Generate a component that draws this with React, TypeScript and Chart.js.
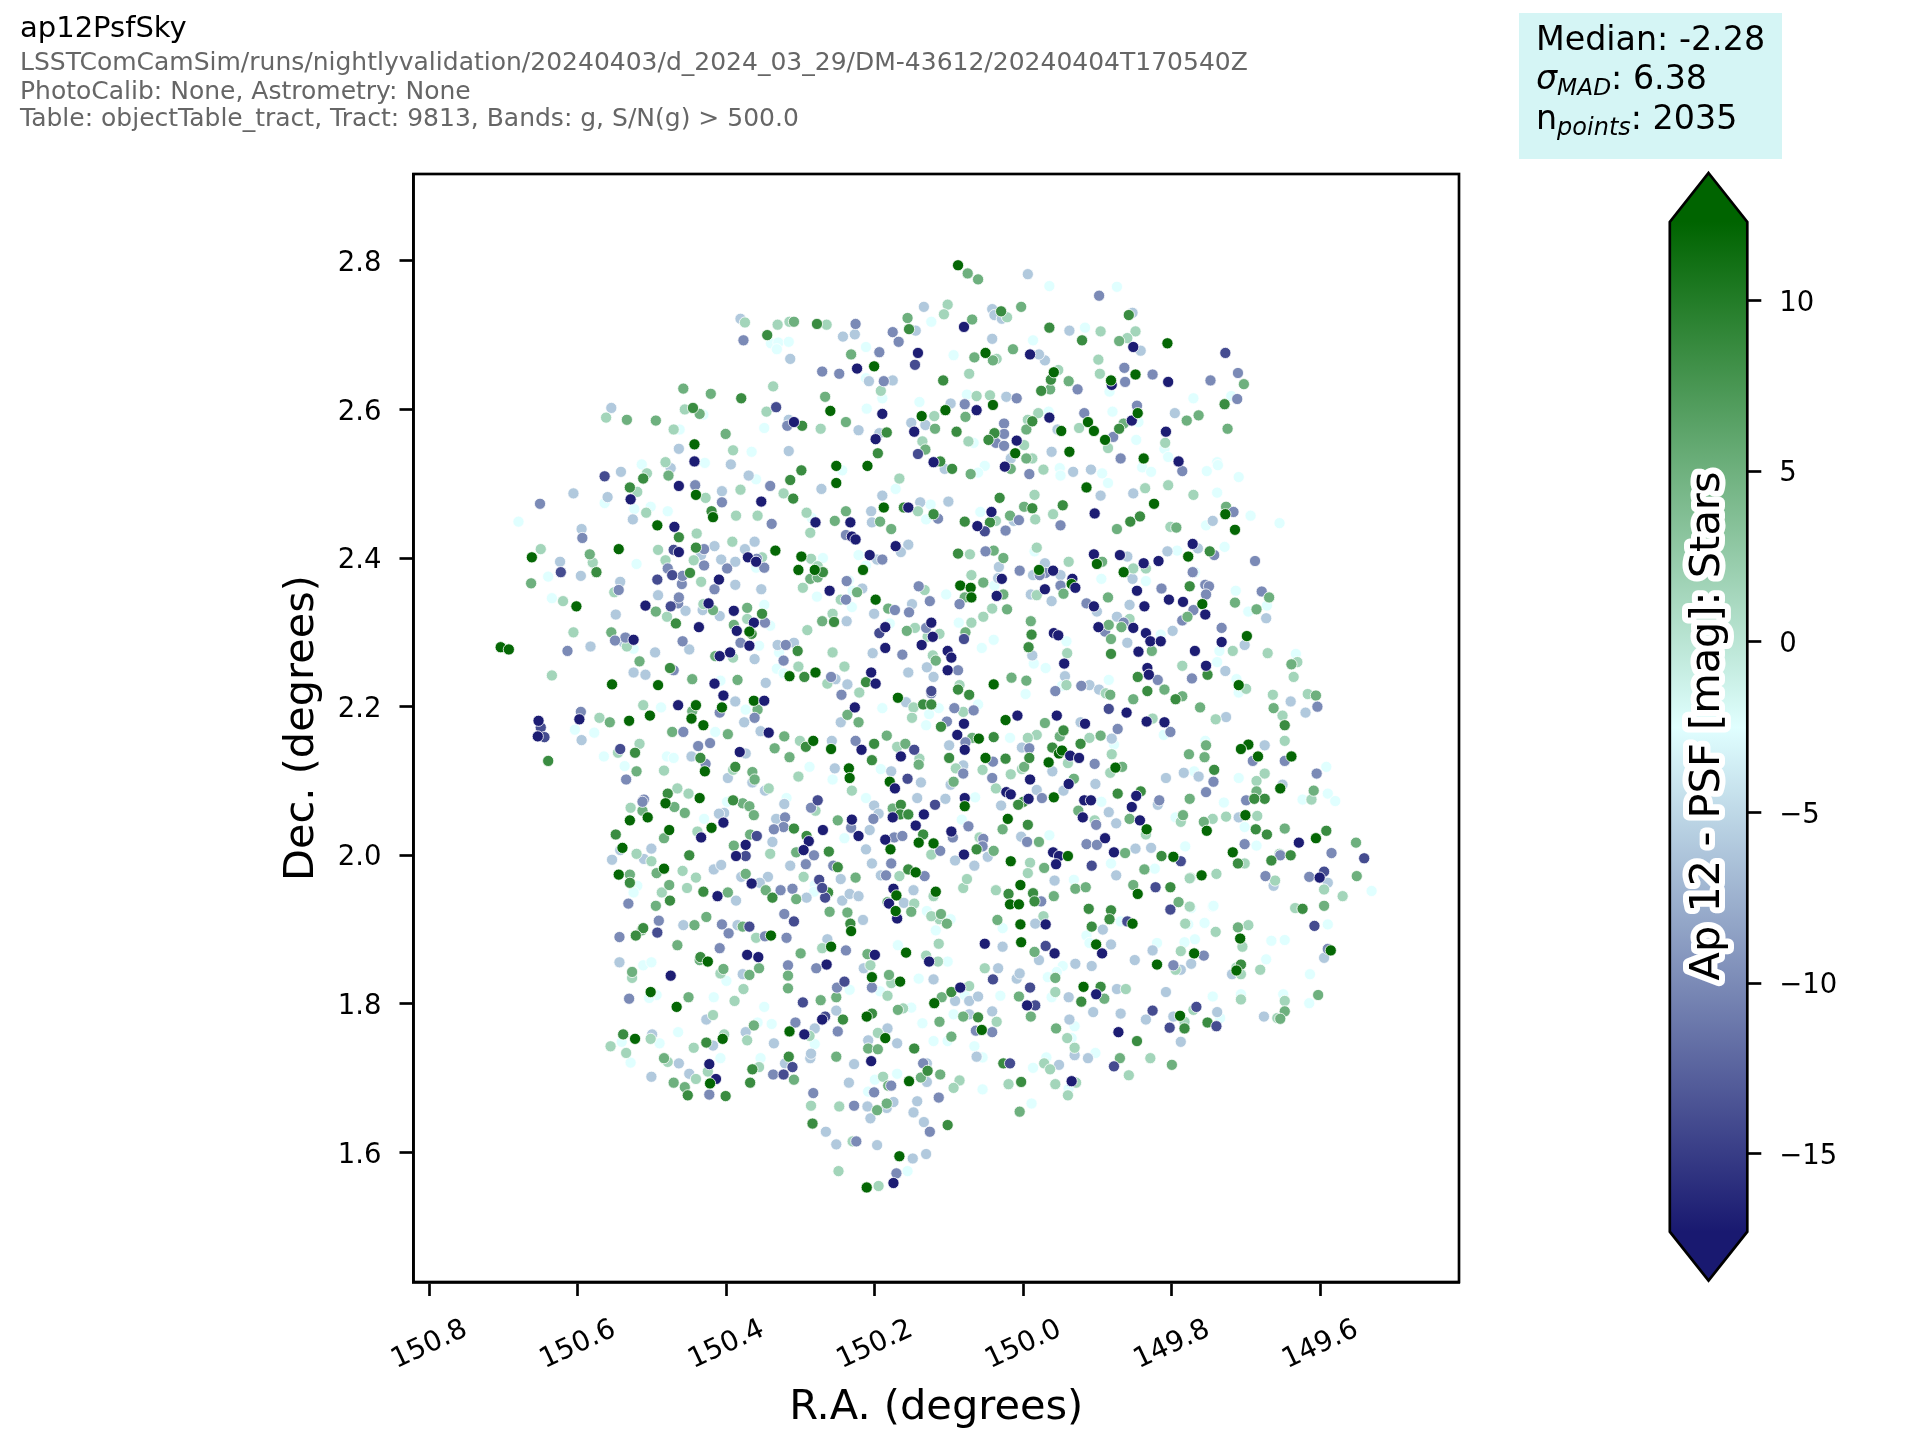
import React, { useEffect, useRef } from "react";
import { Chart, registerables } from "chart.js";

Chart.register(...registerables);

const D = 12, G = 8.5, M = 5, P = 1.5, C = -2.5, L = -6, S = -10, I = -14, N = -17;

const starsNorth: number[][] = [
[150.088,2.794,D],[150.075,2.783,M],[150.061,2.775,M],[149.994,2.782,L],[149.965,2.766,C],[149.874,2.765,C],[149.898,2.753,S],[150.134,2.738,L],[150.102,2.741,P],[150.107,2.728,P],[150.156,2.723,M],[150.154,2.708,G],[150.145,2.706,L],[150.124,2.718,C],[150.080,2.711,N],[150.069,2.721,M],[150.042,2.735,L],[150.039,2.727,L],[150.030,2.732,G],[150.029,2.722,L],[150.022,2.724,P],[150.003,2.738,M],[150.042,2.695,L],[150.014,2.681,M],[149.987,2.693,C],[149.965,2.710,G],[149.938,2.706,L],[149.917,2.710,C],[149.896,2.705,P],[149.921,2.693,G],[149.858,2.727,G],[149.853,2.730,L],[149.849,2.705,P],[149.860,2.696,P],[149.871,2.692,M],[149.852,2.684,N],[149.842,2.679,L],[149.806,2.689,D],[149.728,2.676,I],[149.711,2.649,S],[149.748,2.639,S],[149.703,2.634,M],[149.712,2.614,S],[149.720,2.618,C],[149.729,2.607,G],[149.780,2.585,M],[149.764,2.592,M],[149.796,2.595,L],[149.725,2.574,M],[149.771,2.615,C],[149.805,2.637,N],[149.826,2.647,S],[149.849,2.647,D],[149.864,2.656,S],[149.863,2.637,S],[149.881,2.633,N],[149.882,2.639,D],[149.884,2.624,C],[149.897,2.648,P],[149.899,2.667,P],[149.927,2.627,S],[149.939,2.638,M],[149.959,2.650,D],[149.963,2.640,G],[149.976,2.625,G],[149.964,2.627,M],[149.953,2.653,P],[149.971,2.666,L],[149.979,2.674,L],[149.991,2.674,N],[150.051,2.676,D],[150.066,2.670,M],[150.041,2.666,M],[150.036,2.668,P],[150.094,2.673,C],[150.073,2.648,P],[150.108,2.639,G],[150.142,2.676,N],[150.146,2.660,I],[150.194,2.677,S],[150.232,2.674,M],[150.212,2.684,C],[150.227,2.701,L],[150.243,2.698,L],[150.226,2.715,S],[150.176,2.704,S],[150.168,2.691,S],[150.224,2.655,N],[150.201,2.658,D],[150.271,2.651,S],[150.248,2.648,S],[150.208,2.638,L],[150.188,2.638,S],[150.176,2.639,L],[150.212,2.642,C],[150.192,2.625,P],[150.190,2.615,C],[150.278,2.715,G],[150.265,2.714,P],[150.309,2.718,M],[150.315,2.718,P],[150.331,2.714,P],[150.345,2.700,G],[150.381,2.722,L],[150.375,2.717,P],[150.377,2.693,S],[150.340,2.689,C],[150.330,2.690,C],[150.316,2.691,C],[150.332,2.681,C],[150.314,2.668,L],[150.337,2.631,P],[150.458,2.628,M],[150.421,2.621,M],[150.380,2.615,G],[150.267,2.617,M],[150.456,2.600,P],[150.445,2.602,G],[150.436,2.594,M],[150.431,2.593,C],[150.495,2.585,M],[150.471,2.573,P],[150.463,2.573,C],[150.333,2.603,I],[150.346,2.597,P],[150.260,2.598,D],[150.190,2.594,N],[150.211,2.601,C],[150.140,2.610,C],[150.076,2.620,C],[150.063,2.618,P],[150.045,2.619,P],[150.023,2.617,L],[150.009,2.615,S],[150.079,2.607,S],[150.098,2.608,L],[150.105,2.599,D],[150.063,2.599,N],[150.041,2.606,D],[150.137,2.591,D],[150.120,2.591,P],[150.078,2.590,M],[150.151,2.582,L],[150.132,2.579,L],[150.119,2.574,M],[150.090,2.570,G],[150.039,2.568,G],[150.026,2.581,S],[150.026,2.567,S],[150.009,2.558,N],[149.996,2.573,M],[149.988,2.584,G],[149.980,2.595,P],[149.994,2.586,P],[149.965,2.589,N],[149.966,2.597,C],[149.949,2.571,D],[149.954,2.573,L],[149.918,2.595,S],[149.913,2.583,D],[149.905,2.571,D],[149.925,2.575,P],[149.890,2.559,D],[149.879,2.563,S],[149.871,2.574,G],[149.865,2.581,M],[149.854,2.585,N],[149.846,2.595,D],[149.847,2.605,S],[149.880,2.597,C],[149.845,2.583,C],[149.808,2.570,N],[149.848,2.559,C],[149.809,2.555,P],[149.810,2.547,C],[149.886,2.548,P],[149.869,2.534,S],[149.838,2.534,D],[149.805,2.536,C],[149.791,2.530,N],[149.786,2.517,S],[149.753,2.517,C],[149.739,2.529,C],[149.738,2.525,C],[149.710,2.509,C],[149.840,2.522,C],[149.828,2.516,C],[149.894,2.514,C],[149.909,2.519,L],[149.933,2.516,L],[149.951,2.521,C],[149.950,2.511,C],[149.973,2.519,P],[149.962,2.543,L],[149.938,2.543,D],[149.988,2.534,P],[149.996,2.534,M],[150.011,2.541,D],[149.999,2.552,P],[150.017,2.534,L],[150.025,2.523,N],[150.017,2.520,M],[149.992,2.513,S],[150.037,2.555,S],[150.047,2.559,G],[150.026,2.551,S],[150.052,2.524,C],[150.071,2.513,M],[150.061,2.515,C],[150.074,2.557,P],[150.067,2.555,C],[150.096,2.520,G],[150.112,2.530,G],[150.106,2.520,L],[150.121,2.529,N],[150.142,2.540,I],[150.132,2.546,M],[150.136,2.557,P],[150.184,2.569,G],[150.199,2.560,N],[150.194,2.568,L],[150.147,2.570,N],[150.196,2.541,G],[150.222,2.572,L],[150.239,2.583,M],[150.273,2.574,P],[150.298,2.578,G],[150.309,2.583,N],[150.318,2.578,S],[150.316,2.586,L],[150.349,2.575,C],[150.401,2.567,M],[150.464,2.547,L],[150.443,2.553,D],[150.443,2.530,N],[150.429,2.528,C],[150.394,2.526,L],[150.391,2.545,P],[150.366,2.543,C],[150.316,2.544,L],[150.482,2.529,P],[150.475,2.521,L],[150.299,2.518,G],[150.252,2.524,D],[150.210,2.524,D],[150.244,2.518,C],[150.370,2.511,L],[150.360,2.506,C],[150.507,2.514,P],[150.478,2.511,M],[150.512,2.507,G],[150.314,2.505,G],[150.167,2.507,P],
];

const starsCentreA: number[][] = [
[150.464,2.497,N],[150.442,2.498,S],[150.441,2.485,D],[150.428,2.481,P],[150.406,2.490,L],[150.381,2.492,P],[150.341,2.497,S],[150.323,2.487,P],[150.310,2.480,G],[150.353,2.476,N],[150.406,2.475,S],[150.420,2.463,G],[150.252,2.501,D],[150.272,2.493,L],[150.172,2.493,C],[150.190,2.484,L],[150.188,2.468,D],[150.155,2.468,N],[150.161,2.468,G],[150.139,2.475,L],[150.125,2.472,C],[150.101,2.476,L],[150.121,2.459,G],[150.142,2.463,P],[150.205,2.463,L],[150.032,2.481,G],[149.985,2.485,P],[149.999,2.469,M],[149.988,2.467,G],[149.947,2.471,G],[150.043,2.462,N],[150.058,2.462,C],[149.915,2.495,D],[149.896,2.484,L],[149.886,2.501,C],[149.852,2.487,L],[149.836,2.494,P],[149.805,2.498,P],[149.771,2.485,P],[149.739,2.488,C],[149.824,2.473,D],[149.904,2.460,N],[149.727,2.469,M],[149.728,2.459,D],[149.717,2.462,S],[149.694,2.457,C],
[150.508,2.461,P],[150.479,2.463,C],[150.502,2.469,C],[150.493,2.444,D],[150.470,2.442,N],[150.440,2.433,P],[150.464,2.428,G],[150.418,2.455,D],[150.387,2.457,P],[150.358,2.457,P],[150.339,2.446,S],[150.292,2.461,P],[150.280,2.448,N],[150.285,2.454,C],[150.287,2.434,P],[150.239,2.463,M],[150.254,2.450,M],[150.233,2.448,N],[150.239,2.431,S],[150.231,2.429,N],[150.226,2.425,N],[150.193,2.449,M],[150.204,2.448,L],[150.178,2.439,M],[150.115,2.453,S],[150.131,2.452,C],[150.079,2.449,G],[150.062,2.443,N],[150.052,2.436,I],[150.045,2.448,G],[150.037,2.450,P],[150.024,2.437,S],[150.018,2.457,M],[150.006,2.451,S],[150.013,2.450,L],[149.984,2.452,P],[149.950,2.444,S],[149.960,2.459,P],[149.874,2.439,M],[149.856,2.449,G],[149.843,2.456,G],[149.802,2.442,P],[149.794,2.441,M],[149.715,2.438,D],[149.754,2.444,C],[149.745,2.450,L],[149.655,2.447,C],
[150.362,2.422,L],[150.492,2.411,P],[150.441,2.414,G],[150.430,2.412,S],[150.471,2.411,I],[150.434,2.404,L],[150.464,2.408,N],[150.416,2.416,L],[150.392,2.422,P],[150.375,2.412,L],[150.444,2.397,P],[150.407,2.398,L],[150.388,2.395,L],[150.482,2.397,P],[150.334,2.410,D],[150.371,2.401,N],[150.360,2.395,N],[150.359,2.399,S],[150.352,2.401,P],[150.349,2.387,S],[150.299,2.402,D],[150.286,2.399,P],[150.270,2.400,C],[150.281,2.384,D],[150.216,2.384,D],[150.270,2.381,G],[150.277,2.389,P],[150.212,2.390,C],[150.287,2.372,M],[150.222,2.404,C],[150.235,2.370,C],[150.207,2.404,N],[150.197,2.398,L],[150.190,2.398,S],[150.155,2.418,L],[150.172,2.416,N],[150.165,2.408,L],[150.072,2.405,P],[150.088,2.406,G],[150.040,2.410,M],[150.027,2.400,M],[150.051,2.409,S],[149.979,2.384,D],[149.960,2.383,N],[149.971,2.393,L],[149.982,2.414,P],[149.985,2.409,C],[149.905,2.405,N],[149.901,2.392,D],[149.894,2.395,M],[149.870,2.404,N],[149.860,2.402,L],[149.835,2.386,P],[149.838,2.393,N],[149.818,2.396,N],[149.778,2.402,D],[149.749,2.409,G],[149.793,2.410,C],[149.806,2.409,L],[149.765,2.413,L],[149.743,2.404,S],[149.688,2.396,S],[149.729,2.415,C],[149.772,2.419,N],[149.769,2.381,C],
[150.034,2.373,L],[149.987,2.377,L],[149.970,2.380,S],[149.950,2.377,L],[149.939,2.395,P],[149.982,2.350,P],[150.509,2.336,N],[150.495,2.328,M],[150.475,2.335,I],[150.465,2.339,S],[150.455,2.329,L],[150.424,2.339,N],[150.431,2.338,P],[150.418,2.330,M],[150.390,2.329,N],[150.372,2.333,M],[150.349,2.337,C],[150.432,2.330,L],
[150.480,2.321,P],[150.468,2.312,G],[150.409,2.322,L],[150.437,2.307,N],[150.363,2.313,N],[150.352,2.325,G],[150.372,2.318,P],[150.348,2.313,S],[150.341,2.309,C],[150.390,2.310,M],[150.386,2.302,N],[150.369,2.301,D],[150.366,2.298,G],[150.459,2.288,S],[150.381,2.286,S],[150.369,2.282,N],[150.356,2.282,C],[150.291,2.303,P],[150.257,2.325,P],[150.271,2.315,M],[150.255,2.314,G],[150.238,2.315,L],[150.201,2.325,L],[150.186,2.307,N],[150.194,2.299,I],[150.180,2.312,C],[150.157,2.302,M],[150.146,2.306,P],[150.131,2.306,S],[150.124,2.313,N],[150.129,2.294,P],[150.122,2.294,N],
];

const starsGapUpper: number[][] = [
[150.493,2.371,I],[150.410,2.371,N],[150.434,2.368,P],[150.460,2.365,S],[150.416,2.358,S],[150.388,2.364,L],[150.353,2.358,L],[150.492,2.350,L],[150.464,2.347,S],[150.297,2.360,P],[150.278,2.348,C],[150.261,2.356,N],[150.238,2.369,S],[150.224,2.354,M],[150.217,2.359,L],[150.230,2.356,C],[150.239,2.344,S],[150.246,2.344,P],[150.199,2.344,D],[150.231,2.334,C],[150.182,2.332,M],[150.173,2.330,S],[150.150,2.338,L],[150.154,2.327,S],[150.126,2.342,S],[150.133,2.357,P],[150.141,2.362,S],[150.104,2.351,C],[150.085,2.363,D],[150.071,2.360,D],[150.070,2.347,D],[150.054,2.367,M],[150.070,2.377,P],[150.079,2.347,M],[150.086,2.338,S],[150.029,2.372,N],[150.036,2.349,N],[150.027,2.351,M],[150.039,2.363,C],[150.022,2.331,M],[150.042,2.332,P],[149.990,2.351,L],[149.971,2.358,N],[149.950,2.363,S],[149.934,2.372,N],[149.935,2.365,D],[149.930,2.360,N],[149.946,2.352,M],[149.962,2.342,L],[149.915,2.339,S],[149.905,2.335,N],[149.901,2.328,L],[149.886,2.347,M],[149.895,2.372,C],[149.853,2.372,L],[149.835,2.369,C],[149.847,2.356,N],[149.837,2.335,N],[149.857,2.337,L],[149.814,2.359,S],[149.804,2.344,N],[149.785,2.341,N],[149.776,2.362,G],[149.759,2.338,D],[149.755,2.364,S],[149.750,2.362,S],[149.754,2.351,S],[149.771,2.330,S],[149.714,2.356,C],[149.715,2.340,M],[149.679,2.355,S],[149.669,2.347,M],[149.686,2.331,M],[149.697,2.328,C],[149.672,2.336,C],
[150.473,2.377,I],[150.449,2.380,G],[150.459,2.376,S],[150.303,2.384,D],[150.277,2.374,M],[150.005,2.383,S],[149.978,2.377,S],[149.865,2.381,D],[149.852,2.386,P],[149.772,2.381,S],[150.033,2.388,L],[150.399,2.386,S],[150.430,2.390,S],[150.360,2.387,C],[150.479,2.386,S],
];

const starsCentreB: number[][] = [
[150.123,2.295,L],[150.113,2.298,P],[150.137,2.283,N],[150.087,2.313,C],[150.070,2.313,P],[150.054,2.321,P],[150.078,2.300,M],[150.080,2.291,I],[150.040,2.290,C],[149.990,2.315,M],[149.989,2.297,G],[149.959,2.299,N],[149.953,2.296,N],[149.942,2.288,C],[149.899,2.307,N],[149.890,2.301,S],[149.885,2.310,M],[149.874,2.321,L],[149.865,2.313,S],[149.857,2.318,P],[149.852,2.306,N],[149.868,2.307,M],[149.882,2.291,M],[149.860,2.286,L],[149.835,2.299,N],[149.829,2.288,N],[149.815,2.288,N],[149.815,2.297,C],[149.799,2.302,L],[149.786,2.316,S],[149.779,2.321,M],[149.755,2.324,N],[149.733,2.306,S],[149.733,2.287,N],[149.699,2.295,D],[149.673,2.319,L],
[150.496,2.273,L],[150.450,2.277,L],[150.409,2.268,N],[150.415,2.268,M],[150.395,2.273,N],[150.362,2.264,L],[150.391,2.266,P],[150.331,2.283,L],[150.320,2.283,S],[150.309,2.286,L],[150.323,2.262,S],[150.304,2.275,G],[150.329,2.273,C],[150.257,2.273,P],[150.332,2.251,C],[150.323,2.245,C],[150.303,2.254,P],[150.315,2.241,D],[150.295,2.240,G],[150.280,2.246,D],[150.476,2.252,G],[150.471,2.249,S],[150.509,2.243,L],[150.446,2.237,M],[150.385,2.236,M],[150.241,2.254,P],[150.259,2.240,S],[150.253,2.237,L],[150.205,2.246,N],[150.203,2.272,L],[150.186,2.279,N],[150.163,2.270,S],[150.155,2.246,L],[150.122,2.269,P],[150.118,2.262,M],[150.130,2.253,L],[150.102,2.275,N],[150.097,2.266,N],[150.102,2.249,N],[150.088,2.249,S],[150.121,2.240,L],[150.056,2.279,C],[149.993,2.280,G],[149.988,2.269,L],[149.986,2.258,C],[149.970,2.252,C],[149.945,2.258,N],[149.941,2.272,P],[149.944,2.241,L],[150.016,2.239,M],[149.996,2.235,M],[149.882,2.271,G],[149.845,2.274,N],[149.827,2.275,M],[149.769,2.275,N],[149.736,2.275,C],[149.718,2.275,P],[149.702,2.283,L],[149.671,2.272,P],[149.786,2.255,P],[149.754,2.255,N],[149.752,2.243,G],[149.739,2.260,C],[149.728,2.248,L],[149.833,2.252,N],[149.831,2.243,N],[149.846,2.240,G],[149.819,2.236,S],[149.885,2.236,C],[149.773,2.238,S],
[150.492,2.229,D],[150.416,2.231,N],[150.408,2.235,C],[150.347,2.232,L],[150.237,2.230,L],[150.212,2.233,G],[150.199,2.231,N],[150.221,2.219,P],[150.264,2.231,P],[150.245,2.216,S],[150.040,2.230,D],[150.088,2.223,G],[150.086,2.229,P],[150.073,2.216,G],[150.124,2.221,I],[150.169,2.212,D],[150.124,2.218,S],[150.158,2.206,L],[150.135,2.203,G],[150.124,2.203,G],[150.114,2.198,C],[150.404,2.215,N],[150.388,2.207,L],[150.465,2.202,N],[150.441,2.202,D],[150.446,2.194,M],[150.409,2.192,S],[150.406,2.199,D],[150.363,2.208,D],[150.349,2.208,N],[150.358,2.196,M],[150.374,2.196,C],[150.488,2.199,C],[150.512,2.202,P],[150.190,2.198,C],[150.227,2.199,N],[150.148,2.199,P],[150.093,2.198,S],[150.067,2.195,S],[150.081,2.193,P],[150.061,2.203,C],[149.997,2.217,C],[149.957,2.221,S],[149.942,2.229,P],[149.948,2.228,C],[149.922,2.228,S],[149.911,2.229,L],[149.898,2.223,L],[149.883,2.216,M],[149.889,2.218,P],[149.885,2.197,I],[149.861,2.192,N],[149.852,2.210,M],[149.795,2.210,G],[149.833,2.221,G],[149.810,2.223,M],[149.786,2.214,M],[149.762,2.199,M],[149.710,2.229,D],[149.713,2.237,C],[149.700,2.224,P],[149.710,2.219,C],[149.663,2.198,M],[149.664,2.216,P],
[150.503,2.188,D],[150.447,2.184,D],[150.431,2.175,D],[150.362,2.185,S],[150.376,2.179,L],[150.473,2.166,M],[150.458,2.166,S],[150.415,2.166,C],[150.398,2.163,M],[150.343,2.165,N],[150.322,2.160,M],[150.354,2.167,L],[150.301,2.154,P],[150.283,2.154,D],[150.293,2.146,G],[150.258,2.154,L],[150.226,2.154,S],[150.237,2.189,M],[150.222,2.179,M],[150.246,2.179,L],[150.184,2.161,M],[150.150,2.185,P],[150.127,2.190,C],[150.131,2.175,C],[150.111,2.173,G],[150.103,2.180,S],[150.080,2.177,N],[150.089,2.162,N],[150.069,2.158,M],[150.060,2.157,D],[150.040,2.159,G],[150.078,2.152,S],[150.100,2.148,L],[150.201,2.150,G],[150.159,2.150,M],[150.170,2.146,P],[150.024,2.182,D],[150.008,2.188,N],[149.971,2.178,M],[149.955,2.188,N],[149.946,2.168,G],[149.951,2.160,M],[149.982,2.162,P],[149.994,2.158,P],[150.018,2.158,C],[149.923,2.179,L],[149.917,2.177,N],[149.923,2.150,G],[149.896,2.161,M],[149.911,2.158,P],[149.881,2.157,L],[149.873,2.170,S],[149.878,2.149,C],[149.834,2.180,N],[149.826,2.184,P],[149.810,2.179,N],[149.802,2.166,S],[149.811,2.162,C],[149.754,2.148,M],[149.741,2.183,P],[149.727,2.186,L],[149.755,2.154,C],[149.675,2.148,L],[149.697,2.149,D],
[150.480,2.133,C],[150.471,2.131,C],[150.447,2.133,L],[150.435,2.131,G],[150.428,2.123,S],[150.438,2.147,S],[150.422,2.151,S],[150.382,2.139,N],[150.374,2.137,L],[150.335,2.144,M],[150.315,2.132,M],[150.288,2.119,C],[150.259,2.143,D],[150.218,2.142,N],[150.204,2.128,G],[150.165,2.133,N],[150.147,2.142,I],[150.141,2.122,M],[150.140,2.130,P],[150.100,2.131,G],[150.079,2.142,N],[150.051,2.131,D],[150.024,2.130,G],[150.041,2.126,S],[149.992,2.131,G],[149.992,2.144,S],[150.002,2.145,L],[149.966,2.125,D],[149.961,2.145,G],[149.952,2.137,D],[149.948,2.141,D],[149.937,2.134,N],[149.925,2.131,N],[149.940,2.124,P],[149.881,2.136,P],[149.904,2.123,S],[149.876,2.118,D],[149.867,2.119,M],[149.883,2.111,P],[149.777,2.136,M],[149.756,2.132,M],[149.743,2.115,G],[149.684,2.133,D],[149.691,2.127,S],[149.675,2.110,P],[149.707,2.143,D],
[150.235,2.117,D],[150.234,2.104,D],[150.254,2.117,L],[150.257,2.102,C],[150.303,2.106,P],[150.429,2.113,D],[150.484,2.114,P],[150.388,2.119,G],[150.391,2.115,P],[150.365,2.112,M],[150.398,2.104,L],[150.362,2.102,M],[150.365,2.098,L],[150.192,2.116,C],[150.178,2.113,L],[150.156,2.103,I],[150.091,2.117,P],[150.081,2.110,S],[150.081,2.121,L],[150.055,2.115,P],[150.042,2.104,S],[150.002,2.116,P],[150.017,2.109,P],[149.999,2.119,M],[149.991,2.102,N],[149.961,2.113,L],[149.932,2.103,M],[149.808,2.104,L],[149.764,2.106,L],[149.784,2.111,L],[149.770,2.113,C],[149.710,2.104,C],[149.744,2.099,S],[149.686,2.100,P],
[150.343,2.090,P],[150.348,2.087,L],[150.180,2.099,D],[150.173,2.090,N],[150.138,2.098,L],[150.231,2.087,P],[150.212,2.077,C],[150.201,2.067,L],[150.094,2.099,M],[150.098,2.095,L],[150.037,2.090,P],[150.023,2.085,N],[150.017,2.082,N],[149.982,2.088,L],[149.939,2.096,N],[149.946,2.087,L],[149.959,2.078,D],[149.975,2.077,S],[149.993,2.076,N],[150.000,2.072,G],[150.007,2.068,G],[150.030,2.067,L],[149.903,2.096,L],[149.873,2.083,G],[149.842,2.086,G],[149.848,2.080,N],[149.817,2.074,S],[149.754,2.085,S],[149.776,2.076,M],[149.686,2.086,M],[149.675,2.076,G],[149.700,2.074,S],[149.689,2.076,G],[149.730,2.071,C],[149.819,2.068,L],[149.854,2.065,N],[149.918,2.074,N],[149.909,2.074,N],[149.895,2.072,C],[150.079,2.077,N],[150.065,2.078,C],[150.105,2.076,L],[150.119,2.068,I],[150.143,2.077,L],[150.165,2.068,G],[150.176,2.063,M],[150.079,2.066,D],
[150.479,2.083,G],[150.466,2.090,P],[150.451,2.083,P],[150.511,2.075,S],[150.436,2.077,D],[150.482,2.070,D],[150.470,2.065,M],[150.391,2.074,G],[150.378,2.070,M],[150.369,2.066,M],[150.399,2.072,C],[150.322,2.069,L],[150.319,2.077,C],[150.277,2.074,I],[150.286,2.064,S],[150.280,2.060,P],[150.513,2.060,M],[150.456,2.057,M],[150.403,2.057,L],[150.410,2.056,L],
];

const starsCentreC: number[][] = [
[150.506,2.051,D],[150.430,2.049,C],[150.363,2.054,M],[150.404,2.044,N],[150.420,2.037,D],[150.477,2.034,D],[150.439,2.032,P],[150.434,2.024,N],[150.484,2.023,M],[150.321,2.051,S],[150.333,2.049,L],[150.323,2.038,S],[150.336,2.035,S],[150.309,2.036,G],[150.368,2.028,M],[150.359,2.026,I],[150.270,2.034,N],[150.250,2.047,M],[150.231,2.048,N],[150.232,2.037,S],[150.222,2.026,N],[150.241,2.023,C],[150.292,2.026,G],[150.289,2.019,N],[150.202,2.049,S],[150.195,2.056,L],[150.176,2.051,N],[150.166,2.055,G],[150.155,2.055,G],[150.134,2.055,N],[150.145,2.040,N],[150.207,2.034,L],[150.186,2.021,N],[150.174,2.024,S],[150.163,2.026,S],[150.135,2.028,G],[150.141,2.017,D],[150.121,2.016,D],[150.097,2.032,N],[150.095,2.024,S],[150.074,2.039,S],[150.083,2.048,C],[150.054,2.022,S],[150.059,2.024,P],[150.021,2.049,D],[149.994,2.041,G],[150.028,2.035,M],[150.003,2.025,L],[149.995,2.018,S],[149.979,2.018,M],[149.965,2.027,C],[149.920,2.051,N],[149.902,2.041,S],[149.904,2.047,P],[149.926,2.060,M],[149.885,2.058,L],[149.875,2.043,L],[149.857,2.049,M],[149.843,2.047,N],[149.834,2.035,D],[149.835,2.028,P],[149.890,2.023,N],[149.915,2.015,S],[149.901,2.014,S],[149.785,2.054,M],[149.788,2.045,P],[149.757,2.045,M],[149.753,2.033,D],[149.795,2.051,C],[149.745,2.049,P],[149.701,2.054,D],[149.685,2.053,P],[149.710,2.051,L],[149.727,2.052,P],[149.702,2.038,C],[149.687,2.035,G],[149.672,2.028,G],[149.702,2.015,S],[149.686,2.013,C],
[150.501,2.009,L],[150.511,1.995,L],[150.501,1.992,P],[150.450,2.000,G],[150.484,1.982,D],[150.494,1.976,M],[150.459,1.979,P],[150.441,1.970,P],[150.417,1.981,L],[150.407,1.987,L],[150.390,2.013,M],[150.387,1.999,N],[150.374,2.014,N],[150.374,1.999,I],[150.374,1.975,M],[150.380,1.971,L],[150.338,2.018,L],[150.341,2.002,P],[150.314,1.986,L],[150.293,1.988,S],[150.296,2.007,N],[150.306,2.004,M],[150.262,2.005,G],[150.282,2.000,S],[150.250,1.984,G],[150.256,1.986,S],[150.296,1.971,P],[150.344,1.971,L],[150.212,2.008,L],[150.204,1.989,L],[150.179,2.008,D],[150.178,1.989,S],[150.155,1.981,G],[150.145,1.977,D],[150.133,1.972,S],[150.167,1.972,P],[150.185,1.973,S],[150.192,1.973,L],[150.124,2.001,P],[150.112,2.006,S],[150.080,2.001,N],[150.092,1.993,L],[150.066,1.986,L],[150.063,2.008,G],[150.055,2.012,S],[150.048,1.998,L],[150.040,2.006,M],[150.017,1.992,D],[149.991,1.990,P],[149.994,1.976,P],[149.972,1.983,M],[149.960,2.004,N],[149.952,1.999,N],[149.940,1.999,D],[149.956,1.988,N],[149.908,1.986,I],[149.878,2.004,N],[149.863,2.003,M],[149.849,2.009,L],[149.882,1.989,C],[149.875,1.973,L],[149.837,1.981,M],[149.823,1.982,C],[149.828,2.010,L],[149.814,1.999,G],[149.798,1.998,D],[149.788,1.992,I],[149.782,2.012,C],[149.760,1.973,D],[149.775,1.970,P],[149.740,1.975,P],[149.718,2.004,D],[149.711,1.989,G],[149.702,1.989,P],[149.666,1.993,G],[149.655,2.002,P],[149.674,1.972,S],
[150.477,1.960,M],[150.453,1.956,P],[150.487,1.950,P],[150.476,1.939,G],[150.495,1.932,M],[150.431,1.951,G],[150.412,1.945,N],[150.398,1.950,M],[150.387,1.939,L],[150.366,1.962,N],[150.355,1.963,L],[150.347,1.953,M],[150.338,1.943,G],[150.327,1.953,S],[150.311,1.955,S],[150.306,1.941,M],[150.292,1.943,L],[150.281,1.960,C],[150.282,1.951,C],[150.267,1.943,I],[150.263,1.950,G],[150.275,1.967,I],[150.271,1.956,I],[150.246,1.968,L],[150.244,1.939,L],[150.234,1.948,L],[150.222,1.945,L],[150.226,1.970,M],[150.261,1.924,M],[150.175,1.955,N],[150.171,1.946,D],[150.181,1.935,N],[150.183,1.937,M],[150.148,1.953,L],[150.161,1.936,L],[150.147,1.935,P],[150.121,1.945,P],[150.118,1.951,D],[150.081,1.956,P],[150.076,1.968,P],[150.037,1.953,P],[150.004,1.960,D],[150.020,1.948,G],[149.987,1.949,G],[149.976,1.938,S],[149.985,1.938,G],[149.959,1.945,M],[150.018,1.934,D],[150.006,1.934,D],[149.958,1.966,L],[149.930,1.955,M],[149.916,1.957,M],[149.912,1.928,G],[149.932,1.967,C],[149.882,1.926,G],[149.852,1.960,M],[149.846,1.948,D],[149.822,1.957,I],[149.802,1.957,G],[149.802,1.927,I],[149.791,1.937,M],[149.776,1.931,P],[149.774,1.929,C],[149.745,1.931,C],[149.663,1.959,L],[149.661,1.966,P],[149.744,1.932,C],[149.776,1.969,P],
[150.491,1.912,S],[150.512,1.902,G],[150.493,1.896,I],[150.458,1.906,L],[150.443,1.906,M],[150.427,1.917,M],[150.406,1.907,S],[150.397,1.895,S],[150.385,1.906,L],[150.378,1.904,M],[150.369,1.904,I],[150.348,1.891,S],[150.340,1.892,D],[150.319,1.889,S],[150.322,1.921,S],[150.309,1.911,I],[150.360,1.889,P],[150.237,1.923,M],[150.233,1.908,G],[150.232,1.898,D],[150.216,1.913,L],[150.170,1.915,N],[150.172,1.925,D],[150.151,1.924,M],[150.130,1.925,C],[150.113,1.914,P],[150.098,1.914,C],[150.124,1.918,P],[150.118,1.899,C],[150.111,1.921,M],[150.103,1.908,M],[150.035,1.913,M],[150.028,1.902,C],[150.004,1.907,D],[149.970,1.907,N],[149.973,1.918,P],[149.908,1.904,G],[149.984,1.908,L],[149.915,1.892,C],[149.893,1.900,L],[149.884,1.914,G],[149.869,1.911,C],[149.860,1.911,I],[149.853,1.908,D],[149.782,1.908,P],[149.778,1.907,C],[149.756,1.909,C],[149.769,1.887,C],[149.711,1.903,M],[149.708,1.888,D],[149.741,1.897,P],[149.697,1.906,P],[149.648,1.886,C],
];

const starsGapLower: number[][] = [
[150.259,1.877,D],[150.239,1.872,S],[150.271,1.875,P],[150.264,1.887,L],[150.300,1.868,M],[150.466,1.879,M],[150.409,1.875,S],[150.435,1.863,G],[150.372,1.866,N],[150.357,1.863,N],[150.200,1.866,N],[150.210,1.867,M],[150.158,1.869,D],[150.169,1.879,C],[150.114,1.881,P],[150.131,1.865,P],[150.052,1.881,N],[150.028,1.877,L],[150.003,1.883,D],[149.970,1.878,I],[149.958,1.868,N],[149.985,1.870,M],[149.902,1.880,D],[149.882,1.880,L],[149.911,1.882,C],[149.894,1.868,N],[149.826,1.872,L],[149.820,1.882,C],[149.783,1.883,C],[149.788,1.871,P],[149.705,1.877,P],[149.770,1.868,D],[149.757,1.865,S],[149.666,1.885,C],[150.512,1.852,C],[150.501,1.856,C],
];

const starsSouth: number[][] = [
[150.475,1.838,N],[150.502,1.816,D],[150.494,1.812,C],[150.504,1.808,C],[150.451,1.809,M],[150.467,1.796,D],[150.417,1.809,C],[150.389,1.804,P],[150.349,1.796,C],[150.418,1.785,P],[150.427,1.779,L],[150.500,1.759,L],[150.502,1.753,P],[150.465,1.762,C],[150.490,1.747,C],[150.444,1.741,P],[150.427,1.748,G],[150.418,1.744,L],[150.405,1.753,D],[150.403,1.759,P],[150.372,1.751,P],[150.374,1.762,L],[150.363,1.771,M],[150.358,1.775,C],[150.339,1.773,C],[150.336,1.747,L],[150.315,1.763,D],[150.295,1.759,N],[150.307,1.775,S],[150.288,1.757,P],[150.281,1.746,C],[150.281,1.767,L],[150.271,1.779,N],[150.267,1.783,I],[150.250,1.763,S],[150.243,1.779,G],[150.252,1.791,L],[150.273,1.805,M],[150.297,1.802,I],[150.252,1.809,M],[150.251,1.822,S],[150.241,1.830,I],[150.234,1.819,C],[150.279,1.848,S],[150.265,1.853,N],[150.317,1.852,S],[150.317,1.838,M],[150.317,1.821,M],[150.369,1.839,M],[150.378,1.840,L],[150.356,1.848,M],[150.404,1.847,M],[150.408,1.841,P],[150.400,1.831,C],[150.377,1.820,P],[150.425,1.857,D],[150.436,1.859,M],[150.204,1.836,D],[150.215,1.848,L],[150.206,1.852,P],[150.181,1.839,M],[150.166,1.830,D],[150.178,1.828,P],[150.204,1.822,S],[150.183,1.811,P],[150.193,1.817,C],[150.141,1.834,C],[150.121,1.833,L],[150.127,1.857,N],[150.115,1.857,P],[150.102,1.857,C],[150.162,1.794,P],[150.169,1.792,M],[150.151,1.795,C],[150.204,1.787,G],[150.211,1.783,D],[150.113,1.776,M],[150.120,1.801,D],[150.110,1.809,M],[150.097,1.816,G],[150.085,1.822,N],[150.073,1.824,P],[150.079,1.812,C],[150.092,1.804,L],[150.073,1.804,L],[150.061,1.810,L],[150.052,1.848,P],[150.034,1.848,L],[150.041,1.833,I],[150.031,1.811,C],[150.006,1.810,M],[149.995,1.798,N],[149.984,1.798,I],[150.042,1.790,L],[150.081,1.783,M],[150.061,1.782,G],[150.073,1.786,L],[150.094,1.786,C],[150.036,1.776,P],[149.990,1.783,M],[150.064,1.764,S],[150.056,1.765,D],[150.042,1.762,S],[150.097,1.756,M],[150.102,1.750,C],[150.121,1.750,C],[150.066,1.743,C],[150.063,1.729,L],[150.055,1.728,C],[150.136,1.774,C],[150.183,1.767,L],[150.196,1.761,P],[150.186,1.754,D],[150.209,1.751,L],[150.170,1.747,L],[150.209,1.740,M],[150.196,1.739,M],[150.147,1.740,G],[150.252,1.729,M],[150.287,1.727,L],[150.286,1.733,L],[150.316,1.729,G],[150.311,1.715,I],[150.321,1.720,L],[150.323,1.705,I],[150.337,1.705,S],[150.309,1.698,M],[150.365,1.712,G],[150.356,1.715,P],[150.368,1.694,G],[150.354,1.727,C],[150.408,1.727,C],[150.484,1.727,M],[150.479,1.722,P],[150.464,1.720,L],[150.423,1.719,N],[150.425,1.709,P],[150.450,1.706,L],[150.441,1.699,P],[150.414,1.699,N],[150.422,1.693,D],[150.471,1.694,M],[150.501,1.702,L],[150.456,1.688,M],[150.452,1.677,G],[150.423,1.678,S],[150.401,1.676,G],[150.283,1.680,S],[150.286,1.663,P],[150.248,1.662,P],[150.228,1.663,S],[150.210,1.662,L],[150.197,1.657,M],[150.184,1.666,M],[150.184,1.660,L],[150.175,1.668,L],[150.206,1.646,L],[150.143,1.669,L],[150.114,1.674,S],[150.148,1.654,L],[150.134,1.641,L],[150.126,1.628,S],[150.102,1.637,G],[150.284,1.639,G],[150.266,1.628,L],[150.252,1.611,L],[150.225,1.615,S],[150.230,1.615,P],[150.197,1.610,L],[150.167,1.595,D],[150.149,1.592,L],[150.131,1.598,L],[150.171,1.572,S],[150.156,1.575,C],[150.249,1.575,P],[150.175,1.559,N],[150.211,1.553,D],[150.195,1.555,P],
[150.228,1.719,L],[150.205,1.723,N],[150.235,1.694,L],[150.200,1.698,C],[150.189,1.702,P],[150.182,1.690,M],[150.178,1.690,S],[150.201,1.681,S],[150.209,1.682,C],[150.170,1.706,C],[150.154,1.696,D],[150.138,1.701,M],[150.129,1.710,G],[150.135,1.720,S],[150.130,1.720,L],[150.112,1.705,M],[150.130,1.695,L],[150.086,1.697,P],[150.094,1.687,P],[150.055,1.685,C],[150.027,1.720,G],[150.018,1.720,I],[150.020,1.692,P],[150.003,1.695,G],[150.005,1.655,M],[149.989,1.666,C],[149.957,1.692,P],[149.940,1.677,P],[149.935,1.696,N],[149.929,1.694,P],[149.939,1.686,C],[149.952,1.718,L],[149.972,1.720,P],[149.964,1.712,P],[149.969,1.728,C],[149.987,1.714,C],[149.931,1.731,L],[149.913,1.727,L],[149.903,1.734,C],[149.931,1.741,P],[149.941,1.754,P],[149.935,1.754,C],[149.956,1.767,M],[149.931,1.770,C],[149.938,1.779,L],[149.906,1.789,L],[149.869,1.787,L],[149.872,1.762,N],[149.847,1.750,G],[149.870,1.727,M],[149.878,1.716,I],[149.829,1.727,P],[149.800,1.718,M],[149.858,1.704,P],[149.788,1.749,L],[149.803,1.768,I],[149.783,1.767,G],[149.789,1.784,D],[149.798,1.783,L],[149.783,1.776,P],[149.835,1.779,L],[149.826,1.791,I],[149.767,1.796,I],[149.771,1.792,P],[149.739,1.789,L],[149.735,1.781,C],[149.752,1.775,G],[149.740,1.770,I],[149.676,1.783,L],[149.658,1.781,P],[149.745,1.810,C],[149.862,1.820,P],[149.808,1.816,L],[149.707,1.813,C],[149.708,1.852,L],[149.707,1.840,P],[149.707,1.806,P],[149.707,1.853,G],
[149.713,1.849,P],[149.713,1.845,D],[149.719,1.840,L],[149.681,1.846,P],[149.673,1.860,C],[149.774,1.854,L],[149.788,1.846,L],[149.798,1.852,S],[149.820,1.853,D],[149.795,1.846,P],[149.850,1.859,L],[149.874,1.820,L],[149.891,1.807,M],[149.896,1.823,G],[149.902,1.813,N],[149.919,1.823,D],[149.922,1.803,G],[149.957,1.835,M],[149.957,1.816,P],[149.962,1.809,C],[149.939,1.809,L],[149.967,1.836,C],[149.947,1.851,C],[149.955,1.843,C],[149.908,1.851,L],[149.930,1.854,L],[149.979,1.859,L],[150.009,1.834,L],[150.005,1.841,L],[149.991,1.822,I],
];

const starsWest: number[][] = [
[150.680,2.449,C],[150.651,2.473,S],[150.606,2.487,L],[150.560,2.482,L],[150.564,2.474,C],[150.530,2.495,G],[150.520,2.489,P],[150.529,2.479,N],[150.524,2.466,C],[150.526,2.452,L],[150.595,2.439,L],[150.594,2.427,S],[150.650,2.412,P],[150.662,2.401,D],[150.584,2.405,M],[150.580,2.394,P],[150.575,2.381,G],[150.624,2.395,L],[150.623,2.381,I],[150.596,2.376,L],[150.640,2.375,C],[150.663,2.366,M],[150.545,2.412,D],[150.521,2.392,C],[150.543,2.368,L],[150.545,2.357,S],[150.551,2.354,P],[150.635,2.346,C],[150.620,2.342,P],[150.602,2.335,D],[150.549,2.324,L],[150.606,2.300,P],[150.555,2.300,M],[150.536,2.293,S],[150.550,2.289,S],[150.525,2.290,N],[150.538,2.286,L],[150.534,2.281,P],[150.525,2.278,C],[150.583,2.281,L],[150.614,2.275,S],[150.704,2.280,D],[150.693,2.277,D],[150.517,2.261,M],[150.525,2.246,L],[150.635,2.242,P],[150.554,2.230,D],[150.596,2.193,S],[150.598,2.183,N],[150.571,2.185,P],[150.557,2.179,M],[150.531,2.181,D],[150.653,2.181,N],[150.650,2.172,I],[150.654,2.160,N],[150.645,2.159,I],[150.604,2.169,C],[150.578,2.165,C],[150.595,2.155,L],[150.517,2.150,P],[150.543,2.143,I],[150.546,2.138,P],[150.523,2.138,G],[150.565,2.133,C],[150.537,2.120,C],[150.640,2.127,G],[150.521,2.113,M],[150.535,2.102,S],[150.513,2.072,S],[150.529,2.064,P],[150.530,2.047,D],[150.549,2.028,G],[150.540,2.010,D],[150.543,2.007,L],[150.521,2.002,P],[150.554,1.994,L],[150.545,1.974,D],[150.530,1.974,M],[150.530,1.963,G],[150.520,1.959,C],[150.525,1.950,C],[150.532,1.935,S],[150.522,1.892,G],[150.544,1.890,S],[150.514,1.899,M],[150.555,2.602,L],[150.562,2.589,P],[150.534,2.586,M],[150.564,2.510,I],[150.542,2.516,L],[150.514,2.526,C],[150.544,1.856,L],[150.527,1.843,M],[150.527,1.835,P],[150.531,1.807,S],[150.539,1.759,G],[150.523,1.753,D],[150.541,1.749,C],[150.556,1.743,P],[150.535,1.734,P],[150.529,1.721,C],
];

const starsEast: number[][] = [
[149.633,2.271,C],[149.631,2.260,P],[149.639,2.257,M],[149.636,2.240,P],[149.617,2.217,P],[149.606,2.215,M],[149.640,2.207,L],[149.604,2.200,S],[149.620,2.192,L],[149.651,2.188,P],[149.648,2.175,G],[149.648,2.154,P],[149.639,2.133,D],[149.648,2.127,S],[149.592,2.119,C],[149.605,2.110,S],[149.651,2.095,L],[149.654,2.090,D],[149.609,2.087,M],[149.590,2.083,C],[149.624,2.075,C],[149.612,2.075,P],[149.580,2.073,C],[149.648,2.036,M],[149.592,2.033,G],[149.606,2.023,D],[149.629,2.017,N],[149.552,2.017,M],[149.585,2.003,S],[149.541,1.996,I],[149.654,2.000,S],[149.640,2.000,G],[149.595,1.978,I],[149.601,1.970,N],[149.615,1.971,S],[149.590,1.963,L],[149.551,1.972,M],[149.595,1.954,P],[149.570,1.945,P],[149.531,1.952,C],[149.634,1.929,P],[149.624,1.928,G],[149.595,1.932,M],[149.608,1.905,I],[149.590,1.907,C],[149.590,1.874,S],[149.586,1.872,D],[149.595,1.862,L],
[149.614,1.840,C],[149.650,1.813,C],[149.648,1.804,P],[149.615,1.801,C],[149.603,1.812,M],[149.648,1.790,M],[149.654,1.780,M],
];

const raTicks = [150.8, 150.6, 150.4, 150.2, 150.0, 149.8, 149.6];
const decTicks = [1.6, 1.8, 2.0, 2.2, 2.4, 2.6, 2.8];
const barTicks = [-15, -10, -5, 0, 5, 10];
const barRange = [-17.28, 12.3];
const barCentre = -2.5;

const headerTitle = "ap12PsfSky";
const headerLines = [
  "LSSTComCamSim/runs/nightlyvalidation/20240403/d_2024_03_29/DM-43612/20240404T170540Z",
  "PhotoCalib: None, Astrometry: None",
  "Table: objectTable_tract, Tract: 9813, Bands: g, S/N(g) > 500.0",
];

const FONT = '"DejaVu Sans"';
const LOW = [25, 25, 112], MID = [224, 255, 255], HIGH = [0, 100, 0];

function colourOf(v: number): string {
  const lo = barRange[0], hi = barRange[1];
  const x = Math.max(lo, Math.min(hi, v));
  const mix = (a: number[], b: number[], t: number) =>
    `rgb(${a.map((c, i) => Math.round(c + (b[i] - c) * t)).join(",")})`;
  return x < barCentre ? mix(LOW, MID, (x - lo) / (barCentre - lo)) : mix(MID, HIGH, (x - barCentre) / (hi - barCentre));
}

const setTicks = (values: number[]) => (scale: any) => {
  scale.ticks = values.map((value) => ({ value }));
};

const frameAndHeader = {
  id: "frameAndHeader",
  afterDraw(chart: any) {
    const { ctx, chartArea: a } = chart;
    ctx.save();
    ctx.strokeStyle = "#000";
    ctx.lineWidth = 2.67;
    ctx.strokeRect(a.left, a.top, a.right - a.left, a.bottom - a.top);
    ctx.textBaseline = "alphabetic";
    ctx.textAlign = "left";
    ctx.fillStyle = "#000";
    ctx.font = `29px ${FONT}`;
    ctx.fillText(headerTitle, 20, 37);
    ctx.fillStyle = "#666666";
    ctx.font = `25px ${FONT}`;
    headerLines.forEach((t, i) => ctx.fillText(t, 20, [70, 99, 126][i]));
    ctx.restore();
  },
};

const placeTickLabels = {
  id: "placeTickLabels",
  beforeDraw(chart: any) {
    const { x, y } = chart.scales;
    if (x.options.display) {
      x.getLabelItems().forEach((item: any, i: number) => {
        item.textOffset = 0;
        item.options.textAlign = "center";
        item.options.textBaseline = "middle";
        item.options.translation = [x.getPixelForTick(i), 1345];
      });
    }
    y.getLabelItems().forEach((item: any, i: number) => {
      item.options.translation = [item.options.translation[0], y.getPixelForTick(i) + 3];
    });
  },
};

const colourBar = {
  id: "colourBar",
  beforeDatasetsDraw(chart: any) {
    const { ctx, chartArea: a, scales } = chart;
    const y = scales.y;
    const top = y.getPixelForValue(barRange[1]);
    const bottom = y.getPixelForValue(barRange[0]);
    const mid = (a.left + a.right) / 2;
    const tip = 49;
    const path = () => {
      ctx.beginPath();
      ctx.moveTo(mid, top - tip);
      ctx.lineTo(a.right, top);
      ctx.lineTo(a.right, bottom);
      ctx.lineTo(mid, bottom + tip);
      ctx.lineTo(a.left, bottom);
      ctx.lineTo(a.left, top);
      ctx.closePath();
    };
    const span = bottom + tip - (top - tip);
    const g = ctx.createLinearGradient(0, top - tip, 0, bottom + tip);
    g.addColorStop(0, colourOf(barRange[1]));
    g.addColorStop(tip / span, colourOf(barRange[1]));
    g.addColorStop((y.getPixelForValue(barCentre) - top + tip) / span, colourOf(barCentre));
    g.addColorStop((bottom - top + tip) / span, colourOf(barRange[0]));
    g.addColorStop(1, colourOf(barRange[0]));
    ctx.save();
    path();
    ctx.fillStyle = g;
    ctx.fill();
    ctx.strokeStyle = "#000";
    ctx.lineWidth = 2.67;
    ctx.stroke();
    ctx.restore();
  },
  afterDraw(chart: any) {
    const { ctx } = chart;
    ctx.save();
    ctx.translate(1708.5, 726);
    ctx.rotate(-Math.PI / 2);
    ctx.font = `41.5px ${FONT}`;
    ctx.textAlign = "center";
    ctx.textBaseline = "middle";
    ctx.lineJoin = "round";
    ctx.strokeStyle = "#fff";
    ctx.lineWidth = 12;
    ctx.strokeText("Ap 12 - PSF [mag]: Stars", 0, 0);
    ctx.fillStyle = "#000";
    ctx.fillText("Ap 12 - PSF [mag]: Stars", 0, 0);
    ctx.restore();

    ctx.save();
    ctx.fillStyle = "#D5F5F5";
    ctx.fillRect(1519, 13, 263, 146);
    ctx.fillStyle = "#000";
    ctx.textBaseline = "alphabetic";
    ctx.textAlign = "left";
    const big = `33.3px ${FONT}`, it = `oblique 23.3px ${FONT}`;
    const left = 1536;
    let x = left;
    ctx.font = big;
    ctx.fillText("Median: -2.28", x, 50);
    ctx.font = `oblique 33.3px ${FONT}`;
    ctx.fillText("σ", x, 89);
    x += ctx.measureText("σ").width;
    ctx.font = it;
    ctx.fillText("MAD", x, 95);
    x += ctx.measureText("MAD").width;
    ctx.font = big;
    ctx.fillText(": 6.38", x, 89);
    x = left;
    ctx.fillText("n", x, 129);
    x += ctx.measureText("n").width;
    ctx.font = `oblique 24px ${FONT}`;
    ctx.fillText("points", x, 135);
    x += ctx.measureText("points").width;
    ctx.font = big;
    ctx.fillText(": 2035", x, 129);
    ctx.restore();
  },
};

export default function App() {
  const mainRef = useRef<HTMLCanvasElement>(null);
  const barRef = useRef<HTMLCanvasElement>(null);
  useEffect(() => {
    const stars = [...starsNorth, ...starsCentreA, ...starsGapUpper, ...starsCentreB, ...starsCentreC, ...starsGapLower, ...starsSouth, ...starsWest, ...starsEast]
      .sort((a, b) => Math.abs(a[2] - barCentre) - Math.abs(b[2] - barCentre));
    const labelFont = { family: FONT, size: 41.5, weight: "normal" as const };
    const main = new Chart(mainRef.current!, {
      type: "scatter",
      data: {
        datasets: [{
          data: stars.map((s) => ({ x: s[0], y: s[1] })),
          backgroundColor: stars.map((s) => colourOf(s[2])),
          borderColor: "#fff",
          borderWidth: 0.8,
          pointRadius: 5.6,
        }],
      },
      options: {
        responsive: false,
        devicePixelRatio: 1,
        animation: false,
        events: [],
        layout: { padding: { left: 0, top: 174, right: 461, bottom: 0 } },
        plugins: { legend: { display: false }, tooltip: { enabled: false } },
        scales: {
          x: {
            type: "linear", reverse: true, min: 149.4133, max: 150.8214,
            afterBuildTicks: setTicks(raTicks),
            afterFit: (s: any) => { s.height = 158; },
            border: { color: "#000", width: 2.67 },
            grid: { drawOnChartArea: false, tickColor: "#000", tickWidth: 2.67, tickLength: 14 },
            ticks: { color: "#000", font: { family: FONT, size: 28 }, minRotation: 25, maxRotation: 25, callback: (v: any) => Number(v).toFixed(1) },
            title: { display: true, text: "R.A. (degrees)", color: "#000", font: labelFont, padding: { top: 0, bottom: 7 } },
          },
          y: {
            type: "linear", min: 1.4258, max: 2.9168,
            afterBuildTicks: setTicks(decTicks),
            afterFit: (s: any) => { s.width = 413.5; },
            border: { color: "#000", width: 2.67 },
            grid: { drawOnChartArea: false, tickColor: "#000", tickWidth: 2.67, tickLength: 14 },
            ticks: { color: "#000", font: { family: FONT, size: 27.5 }, padding: 18, callback: (v: any) => Number(v).toFixed(1) },
            title: { display: true, text: "Dec. (degrees)", color: "#000", font: labelFont, padding: { top: 277, bottom: 0 } },
          },
        },
      },
      plugins: [placeTickLabels, frameAndHeader],
    });
    const bar = new Chart(barRef.current!, {
      type: "scatter",
      data: { datasets: [{ data: [] }] },
      options: {
        responsive: false,
        devicePixelRatio: 1,
        animation: false,
        events: [],
        layout: { padding: { left: 1669.8, top: 222, right: 72.7, bottom: 208.3 } },
        plugins: { legend: { display: false }, tooltip: { enabled: false } },
        scales: {
          x: { display: false },
          y: {
            position: "right", type: "linear", min: barRange[0], max: barRange[1],
            afterBuildTicks: setTicks(barTicks),
            afterFit: (s: any) => { s.width = 100; },
            border: { display: false },
            grid: { drawOnChartArea: false, tickColor: "#000", tickWidth: 2.67, tickLength: 14 },
            ticks: { color: "#000", font: { family: FONT, size: 27.5 }, padding: 18, callback: (v: any) => String(v).replace("-", "\u2212") },
          },
        },
      },
      plugins: [placeTickLabels, colourBar],
    });
    return () => { main.destroy(); bar.destroy(); };
  }, []);
  return (
    <div style={{ position: "fixed", left: 0, top: 0, width: 1920, height: 1440, background: "#fff" }}>
      <canvas ref={mainRef} width={1920} height={1440} style={{ position: "absolute", left: 0, top: 0, width: 1920, height: 1440 }} />
      <canvas ref={barRef} width={1920} height={1440} style={{ position: "absolute", left: 0, top: 0, width: 1920, height: 1440 }} />
    </div>
  );
}
